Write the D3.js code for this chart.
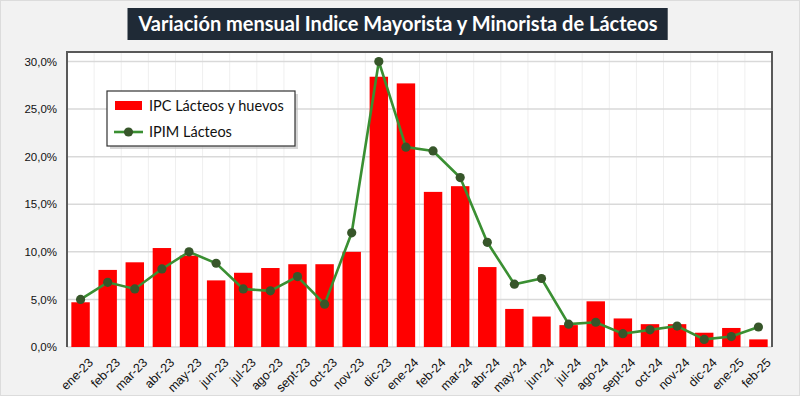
<!DOCTYPE html>
<html lang="es">
<head>
<meta charset="utf-8">
<title>Variación mensual Indice Mayorista y Minorista de Lácteos</title>
<script src="https://d3js.org/d3.v7.min.js"></script>
<style>
  body { margin: 0; background: #f2f2f2; }
  svg { display: block; font-family: Lato, "Open Sans", sans-serif; }
  .grid line { stroke: #d9d9d9; }
  .vgrid line { stroke: #efefef; }
  .axis text { fill: #111; font-size: 11.5px; }
  .axis.x text { font-size: 12.5px; }
</style>
</head>
<body>
<svg width="800" height="396"></svg>
<script>
// datos
var meses = ["ene-23","feb-23","mar-23","abr-23","may-23","jun-23","jul-23","ago-23","sept-23","oct-23","nov-23","dic-23",
             "ene-24","feb-24","mar-24","abr-24","may-24","jun-24","jul-24","ago-24","sept-24","oct-24","nov-24","dic-24",
             "ene-25","feb-25"];
var ipc  = [4.7, 8.1, 8.9, 10.4, 9.6, 7.0, 7.8, 8.3, 8.7, 8.7, 10.0, 28.4,
            27.7, 16.3, 16.9, 8.4, 4.0, 3.2, 2.3, 4.8, 3.0, 2.4, 2.4, 1.5, 2.0, 0.8];
var ipim = [5.0, 6.8, 6.1, 8.2, 10.0, 8.8, 6.1, 5.9, 7.4, 4.5, 12.0, 30.0,
            21.0, 20.6, 17.8, 11.0, 6.6, 7.2, 2.4, 2.6, 1.4, 1.8, 2.2, 0.8, 1.1, 2.1];
var yTicks = [0, 5, 10, 15, 20, 25, 30];
var titulo = "Variación mensual Indice Mayorista y Minorista de Lácteos";
var serieBarras = "IPC Lácteos y huevos";
var serieLinea = "IPIM Lácteos";

var svg = d3.select("svg"),
    margin = {top: 52, right: 28, bottom: 49, left: 67},
    width = 800 - margin.left - margin.right,
    height = 396 - margin.top - margin.bottom;

// marco exterior
svg.append("rect").attr("x", 0.5).attr("y", 0.5).attr("width", 799).attr("height", 395)
    .attr("fill", "#f2f2f2").attr("stroke", "#dcdcdc");

var g = svg.append("g").attr("transform", "translate(" + margin.left + "," + margin.top + ")");

var x = d3.scaleBand().domain(meses).range([0, width]).paddingInner(0.32).paddingOuter(0.16);
var y = d3.scaleLinear().domain([0, 31]).range([height, 0]);

g.append("rect").attr("width", width).attr("height", height).attr("fill", "#fff");

// grilla vertical
g.append("g").attr("class", "vgrid")
  .selectAll("line").data(meses.slice(1)).enter().append("line")
    .attr("x1", function(d) { return x(d) - x.step() * x.paddingInner() / 2; })
    .attr("x2", function(d) { return x(d) - x.step() * x.paddingInner() / 2; })
    .attr("y1", 0).attr("y2", height);

// grilla horizontal
g.append("g").attr("class", "grid")
  .selectAll("line").data(yTicks).enter().append("line")
    .attr("x1", 0).attr("x2", width)
    .attr("y1", function(d) { return y(d); }).attr("y2", function(d) { return y(d); })
    .attr("stroke-width", 1.5);

g.selectAll(".bar").data(ipc).enter().append("rect")
    .attr("class", "bar")
    .attr("x", function(d, i) { return x(meses[i]); })
    .attr("width", x.bandwidth())
    .attr("y", function(d) { return y(d); })
    .attr("height", function(d) { return height - y(d); })
    .attr("fill", "#ff0000");

var line = d3.line()
    .x(function(d, i) { return x(meses[i]) + x.bandwidth() / 2; })
    .y(function(d) { return y(d); });

g.append("path").datum(ipim)
    .attr("d", line).attr("fill", "none")
    .attr("stroke", "#3a8f32").attr("stroke-width", 2.6);

g.selectAll(".pt").data(ipim).enter().append("circle")
    .attr("class", "pt")
    .attr("cx", function(d, i) { return x(meses[i]) + x.bandwidth() / 2; })
    .attr("cy", function(d) { return y(d); })
    .attr("r", 4.6)
    .attr("fill", "#37562a");

// marco del area de grafico
g.append("path")
    .attr("d", "M0," + height + "V0H" + width + "V" + height)
    .attr("fill", "none").attr("stroke", "#595959").attr("stroke-width", 2);

// ejes
var fmt = function(d) { return d3.format(".1f")(d).replace(".", ",") + "%"; };
g.append("g").attr("class", "axis")
    .call(d3.axisLeft(y).tickValues(yTicks).tickFormat(fmt).tickSize(0).tickPadding(10))
    .call(function(s) { s.select(".domain").remove(); });

var ax = g.append("g").attr("class", "axis x")
    .attr("transform", "translate(0," + height + ")")
    .call(d3.axisBottom(x).tickSize(0).tickPadding(6));
ax.select(".domain").remove();
ax.selectAll("text")
    .attr("text-anchor", "end")
    .attr("dy", "0.35em")
    .attr("transform", "translate(6,9) rotate(-45)");

// titulo
var tg = svg.append("g");
var tt = tg.append("text").attr("x", 398).attr("y", 31)
    .attr("text-anchor", "middle").attr("fill", "#fff")
    .style("font-size", "20px").style("font-weight", "bold")
    .text(titulo);
var tb = tt.node().getBBox();
tg.insert("rect", "text")
    .attr("x", tb.x - 10).attr("y", 8).attr("width", tb.width + 20).attr("height", 32)
    .attr("fill", "#1f2a36");

// leyenda
var lg = g.append("g").attr("transform", "translate(40,39)");
lg.append("rect").attr("x", 3).attr("y", 3).attr("width", 188).attr("height", 55)
    .attr("fill", "#bbb").attr("opacity", 0.6);
lg.append("rect").attr("width", 188).attr("height", 55)
    .attr("fill", "#fff").attr("stroke", "#333").attr("stroke-width", 1.2);
lg.append("rect").attr("x", 8).attr("y", 10).attr("width", 27).attr("height", 9).attr("fill", "#ff0000");
lg.append("text").attr("x", 42).attr("y", 20).style("font-size", "14.5px").attr("fill", "#111").text(serieBarras);
lg.append("line").attr("x1", 7).attr("x2", 36).attr("y1", 41).attr("y2", 41)
    .attr("stroke", "#3a8f32").attr("stroke-width", 2.6);
lg.append("circle").attr("cx", 21.5).attr("cy", 41).attr("r", 4.6).attr("fill", "#37562a");
lg.append("text").attr("x", 42).attr("y", 46).style("font-size", "14.5px").attr("fill", "#111").text(serieLinea);
</script>
</body>
</html>
